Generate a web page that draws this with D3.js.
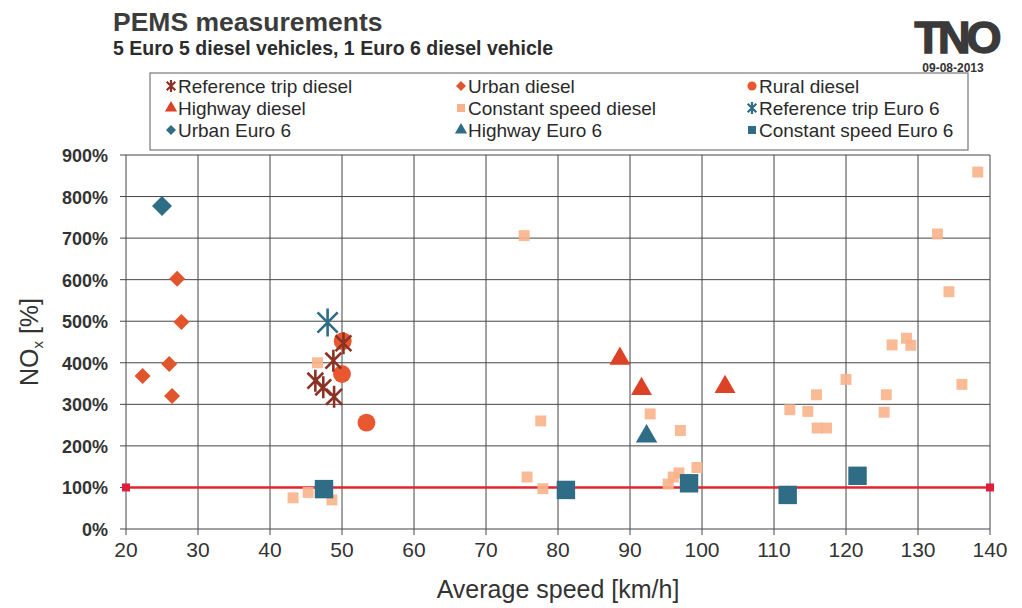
<!DOCTYPE html>
<html><head><meta charset="utf-8">
<script src="https://cdn.jsdelivr.net/npm/d3@7"></script>
<style>
html,body{margin:0;padding:0;background:#fff;}
svg{display:block;font-family:"Liberation Sans",Arial,sans-serif;}
</style></head>
<body>
<svg id="chart" width="1022" height="608"></svg>
<script>
// ---- data (average speed km/h, NOx %) ----
const xTicks = [20,30,40,50,60,70,80,90,100,110,120,130,140];
const yTicks = [0,100,200,300,400,500,600,700,800,900];
const refTripDiesel = [[50.2,447],[48.8,405],[46.3,357],[47.4,341],[48.9,318]];
const urbanDiesel = [[27.1,602],[27.7,498],[26.0,397],[22.3,368],[26.4,320]];
const ruralDiesel = [[50.1,452],[50.0,373],[53.4,256]];
const highwayDiesel = [[88.6,410],[91.6,337],[103.2,342]];
const constantDiesel = [[46.6,400],[43.2,75],[45.3,88],[48.6,70],[75.7,125],[77.9,97],[77.6,260],[75.3,706],
  [92.8,277],[97.0,237],[95.3,108],[96.0,125],[96.8,135],[99.3,148],[138.3,859],[132.7,710],[134.3,571],
  [128.4,459],[129.0,442],[126.4,443],[120.0,360],[115.9,323],[125.6,323],[136.1,348],[112.2,287],
  [114.7,283],[125.3,281],[116.0,243],[117.3,243]];
const refTripEuro6 = [[48.0,497]];
const urbanEuro6 = [[25.0,777]];
const highwayEuro6 = [[92.3,223]];
const constantEuro6 = [[47.5,96],[81.1,94],[98.2,110],[111.9,82],[121.6,128]];
const limitLine = [[20,100],[140,100]];

const svg = d3.select("#chart");
const L=126, R=990, T=155, B=529;
const x = d3.scaleLinear().domain([20,140]).range([L,R]);
const y = d3.scaleLinear().domain([0,900]).range([B,T]);

const cBrown="#8a3324", cOrange="#e2542c", cRural="#e8572f", cHigh="#dc4326", cPeach="#f8b38b", cTeal="#2f6c85";

// titles
svg.append("text").attr("x",113).attr("y",31).attr("font-size",26.5).attr("font-weight","bold").attr("fill","#3c3c3c").text("PEMS measurements");
svg.append("text").attr("x",113).attr("y",55).attr("font-size",19.5).attr("font-weight","bold").attr("fill","#2c2c2c").text("5 Euro 5 diesel vehicles, 1 Euro 6 diesel vehicle");
svg.append("text").attr("x",956).attr("y",53).attr("text-anchor","middle").attr("font-size",45).attr("font-weight","bold").attr("letter-spacing",-4).attr("fill","#3a3a3a").attr("stroke","#3a3a3a").attr("stroke-width",1.5).text("TNO");
svg.append("text").attr("x",953).attr("y",72).attr("text-anchor","middle").attr("font-size",12).attr("font-weight","bold").attr("fill","#333").text("09-08-2013");

// grid
const g = svg.append("g");
g.selectAll(".vg").data(xTicks).join("line").attr("x1",d=>x(d)).attr("x2",d=>x(d)).attr("y1",T).attr("y2",B+6)
  .attr("stroke","#454545").attr("stroke-width",1);
g.selectAll(".hg").data(yTicks).join("line").attr("x1",L-6).attr("x2",R).attr("y1",d=>y(d)).attr("y2",d=>y(d))
  .attr("stroke","#454545").attr("stroke-width",1);

// axes labels
g.selectAll(".yl").data(yTicks).join("text").attr("x",108).attr("y",d=>y(d)+7).attr("text-anchor","end")
  .attr("font-size",18).attr("font-weight","bold").attr("fill","#333").text(d=>d+"%");
g.selectAll(".xl").data(xTicks).join("text").attr("x",d=>x(d)).attr("y",557).attr("text-anchor","middle")
  .attr("font-size",21).attr("fill","#333").text(d=>d);
svg.append("text").attr("x",558).attr("y",598).attr("text-anchor","middle").attr("font-size",25).attr("fill","#333").text("Average speed [km/h]");
const yt = svg.append("text").attr("transform","translate(38,342) rotate(-90)").attr("text-anchor","middle").attr("font-size",25).attr("fill","#333");
yt.append("tspan").text("NO");
yt.append("tspan").attr("font-size",15).attr("dy",5).text("x");
yt.append("tspan").attr("dy",-5).text(" [%]");

// limit line
const line = d3.line().x(d=>x(d[0])).y(d=>y(d[1]));
svg.append("path").datum(limitLine).attr("d",line).attr("stroke","#e2262e").attr("stroke-width",2.5).attr("fill","none");
svg.selectAll(".lm").data(limitLine).join("rect").attr("x",d=>x(d[0])-4).attr("y",d=>y(d[1])-4).attr("width",8).attr("height",8).attr("fill","#e01e3c");

// marker helpers
function star(r){return `M${-r*0.72},${-r*0.72}L${r*0.72},${r*0.72}M${-r*0.72},${r*0.72}L${r*0.72},${-r*0.72}M0,${-r}L0,${r}`;}
function diamond(r){return `M0,${-r}L${r},0L0,${r}L${-r},0Z`;}
const sym = (type,size)=>d3.symbol().type(type).size(size)();
const pts = svg.append("g");
function draw(data, fn){ pts.append("g").selectAll("path").data(data).join("path").attr("transform",d=>`translate(${x(d[0])},${y(d[1])})`).call(fn); }

draw(constantDiesel, s=>s.attr("d",sym(d3.symbolSquare,120)).attr("fill",cPeach).attr("opacity",0.9));
draw(urbanDiesel, s=>s.attr("d",diamond(8)).attr("fill",cOrange));
draw(ruralDiesel, s=>s.attr("d",sym(d3.symbolCircle,250)).attr("fill",cRural));
draw(highwayDiesel, s=>s.attr("d",sym(d3.symbolTriangle,190)).attr("fill",cHigh));
draw(refTripDiesel, s=>s.attr("d",star(11)).attr("stroke",cBrown).attr("stroke-width",2.6).attr("fill","none"));
draw(urbanEuro6, s=>s.attr("d",diamond(10)).attr("fill",cTeal));
draw(highwayEuro6, s=>s.attr("d",sym(d3.symbolTriangle,200)).attr("fill",cTeal));
draw(refTripEuro6, s=>s.attr("d",star(14)).attr("stroke",cTeal).attr("stroke-width",2.6).attr("fill","none"));
draw(constantEuro6, s=>s.attr("d",sym(d3.symbolSquare,340)).attr("fill",cTeal));

// legend
const legend = [
  {name:"Reference trip diesel", kind:"star", color:cBrown},
  {name:"Urban diesel", kind:"diamond", color:cOrange},
  {name:"Rural diesel", kind:"circle", color:cRural},
  {name:"Highway diesel", kind:"triangle", color:cHigh},
  {name:"Constant speed diesel", kind:"square", color:cPeach},
  {name:"Reference trip Euro 6", kind:"star", color:cTeal},
  {name:"Urban Euro 6", kind:"diamond", color:cTeal},
  {name:"Highway Euro 6", kind:"triangle", color:cTeal},
  {name:"Constant speed Euro 6", kind:"square", color:cTeal}
];
svg.append("rect").attr("x",150).attr("y",73).attr("width",818).attr("height",77).attr("fill","#fff").attr("stroke","#777").attr("stroke-width",1.2);
const colX=[171,461,752], rowY=[86,108,130];
const lg = svg.append("g").selectAll("g").data(legend).join("g")
  .attr("transform",(d,i)=>`translate(${colX[i%3]},${rowY[Math.floor(i/3)]})`);
lg.append("path").attr("d",d=>{
  if(d.kind==="star") return star(6);
  if(d.kind==="diamond") return diamond(5);
  const t={circle:d3.symbolCircle,triangle:d3.symbolTriangle,square:d3.symbolSquare}[d.kind];
  return sym(t,65);
}).attr("fill",d=>d.kind==="star"?"none":d.color).attr("stroke",d=>d.kind==="star"?d.color:"none").attr("stroke-width",2.2);
lg.append("text").attr("x",7).attr("y",7).attr("font-size",19).attr("fill","#2a2a2a").text(d=>d.name);
</script>
</body></html>
